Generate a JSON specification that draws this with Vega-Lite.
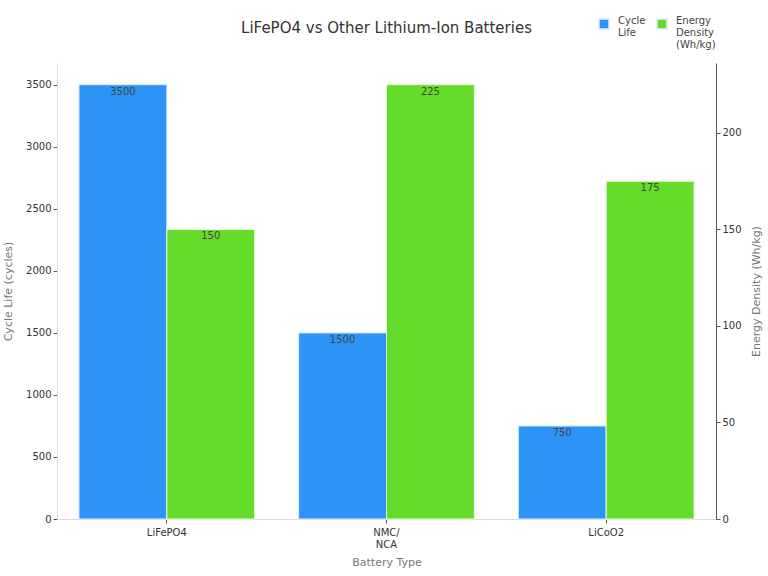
{
  "$schema": "https://vega.github.io/schema/vega-lite/v6.json",
  "width": 659,
  "height": 456,
  "autosize": {"type": "none"},
  "padding": {"left": 57, "top": 63, "right": 52, "bottom": 57},
  "background": "white",
  "config": {
    "font": "DejaVu Sans",
    "view": {"stroke": null},
    "axis": {"grid": false, "labelColor": "#333333", "titleColor": "#777777", "titleFontWeight": "normal", "labelFontSize": 10, "titleFontSize": 11, "tickColor": "#555555", "tickSize": 4}
  },
  "title": {"text": "LiFePO4 vs Other Lithium-Ion Batteries", "fontSize": 15, "fontWeight": "normal", "color": "#333333", "anchor": "middle", "offset": -18, "font": "DejaVu Sans"},
  "data": {"values": [
    {"battery": "LiFePO4", "metric": "Cycle Life", "value": 3500},
    {"battery": "NMC/ NCA", "metric": "Cycle Life", "value": 1500},
    {"battery": "LiCoO2", "metric": "Cycle Life", "value": 750},
    {"battery": "LiFePO4", "metric": "Energy Density (Wh/kg)", "value": 150},
    {"battery": "NMC/ NCA", "metric": "Energy Density (Wh/kg)", "value": 225},
    {"battery": "LiCoO2", "metric": "Energy Density (Wh/kg)", "value": 175}
  ]},
  "encoding": {
    "x": {"field": "battery", "type": "nominal", "sort": ["LiFePO4", "NMC/ NCA", "LiCoO2"],
      "scale": {"paddingInner": 0.2, "paddingOuter": 0.1},
      "axis": {"title": "Battery Type", "labelAngle": 0, "labelExpr": "split(datum.label, ' ')", "domainColor": "#dddddd", "titlePadding": 7, "labelPadding": 4}},
    "xOffset": {"field": "metric", "type": "nominal", "scale": {"domain": ["Cycle Life", "Energy Density (Wh/kg)"], "paddingInner": 0, "paddingOuter": 0}}
  },
  "layer": [
    {
      "transform": [{"filter": "datum.metric == 'Cycle Life'"}],
      "encoding": {
        "y": {"field": "value", "type": "quantitative", "scale": {"domain": [0, 3675], "nice": false},
          "axis": {"title": "Cycle Life (cycles)", "orient": "left", "format": "d", "values": [0, 500, 1000, 1500, 2000, 2500, 3000, 3500], "domainColor": "#dddddd", "titlePadding": 12}}
      },
      "layer": [
        {
          "mark": {"type": "bar", "stroke": "#dcefff", "strokeWidth": 1},
          "encoding": {
            "color": {"field": "metric", "type": "nominal",
              "scale": {"domain": ["Cycle Life", "Energy Density (Wh/kg)"], "range": ["#2e93f7", "#66dc2a"]},
              "legend": {"title": null, "orient": "none", "direction": "horizontal", "legendX": 541, "legendY": -45, "symbolType": "square", "symbolSize": 100, "symbolOpacity": 1, "labelFontSize": 10, "labelColor": "#444444", "labelExpr": "datum.label == 'Cycle Life' ? ['Cycle', 'Life', ' '] : split(datum.label, ' ')", "columnPadding": 8, "labelBaseline": "alphabetic", "labelOffset": 8}}
          }
        },
        {
          "mark": {"type": "text", "baseline": "top", "dy": 2, "fontSize": 10, "color": "#444444"},
          "encoding": {
            "text": {"field": "value", "type": "quantitative"}
          }
        }
      ]
    },
    {
      "transform": [{"filter": "datum.metric != 'Cycle Life'"}],
      "encoding": {
        "y": {"field": "value", "type": "quantitative", "scale": {"domain": [0, 236.25], "nice": false},
          "axis": {"title": "Energy Density (Wh/kg)", "orient": "right", "titleAngle": 270, "values": [0, 50, 100, 150, 200], "domainColor": "#555555", "titlePadding": 20}}
      },
      "layer": [
        {
          "mark": {"type": "bar", "stroke": "#e6f9d9", "strokeWidth": 1},
          "encoding": {
            "color": {"field": "metric", "type": "nominal"}
          }
        },
        {
          "mark": {"type": "text", "baseline": "top", "dy": 2, "fontSize": 10, "color": "#444444"},
          "encoding": {
            "text": {"field": "value", "type": "quantitative"}
          }
        }
      ]
    }
  ],
  "resolve": {"scale": {"y": "independent"}}
}
